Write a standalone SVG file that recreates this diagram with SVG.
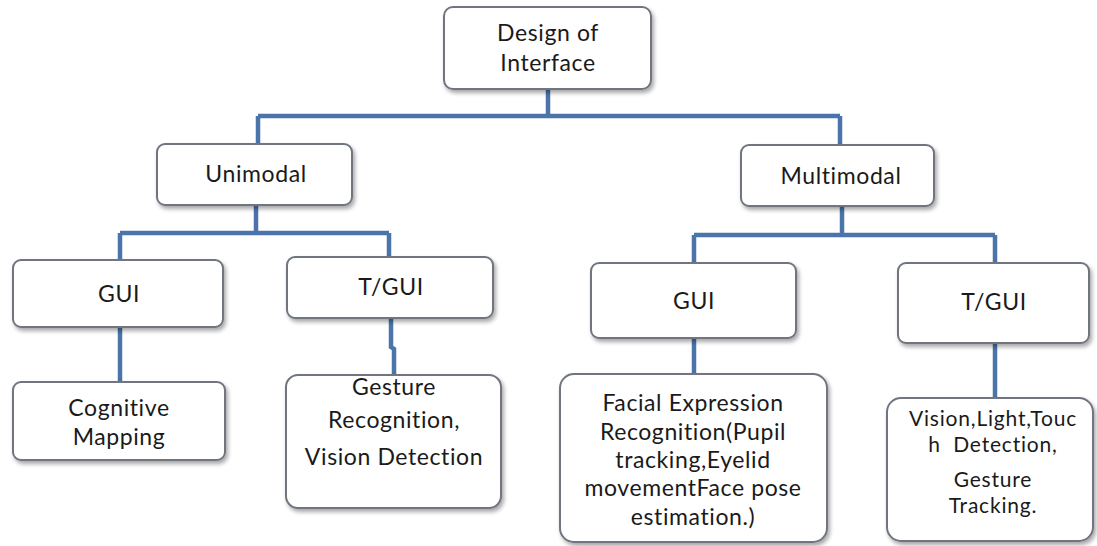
<svg xmlns="http://www.w3.org/2000/svg" width="1097" height="546" viewBox="0 0 1097 546">
<defs>
<filter id="sh" x="-10%" y="-10%" width="125%" height="130%">
<feGaussianBlur in="SourceAlpha" stdDeviation="2"/>
<feOffset dx="2" dy="3" result="b"/>
<feComponentTransfer><feFuncA type="linear" slope="0.35"/></feComponentTransfer>
<feMerge><feMergeNode/><feMergeNode in="SourceGraphic"/></feMerge>
</filter>
<style>
.box{fill:#ffffff;stroke:#6f7580;stroke-width:2;filter:url(#sh)}
.t{font-family:Lato,"Open Sans","Liberation Sans",sans-serif;font-size:23px;letter-spacing:0.6px;fill:#1a1a1a;text-anchor:middle}
.s{font-size:21px;letter-spacing:0.8px}
.c{fill:none;stroke:#4a74aa;stroke-width:4.5}
</style>
</defs>
<rect width="1097" height="546" fill="#ffffff"/>
<g id="connectors">
<path class="c" d="M548 89 V116 M258 116 H840 M258 116 V144 M840 116 V145"/>
<path class="c" d="M256 205 V233 M120 233 H389 M120 233 V260 M389 233 V257"/>
<path class="c" d="M842 206 V235 M694 235 H995 M694 235 V263 M995 235 V263"/>
<path class="c" d="M120 327 V382"/>
<path class="c" d="M391 318 V347 L394 349 V375"/>
<path class="c" d="M694 338 V374"/>
<path class="c" d="M995 343 V398"/>
</g>
<g id="root"><rect class="box" x="444" y="7" width="207" height="82" rx="9"/>
<text class="t" x="548" y="41">Design of</text><text class="t" x="548" y="71">Interface</text></g>
<g id="unimodal"><rect class="box" x="157" y="144" width="195" height="61" rx="8"/>
<text class="t" x="256" y="182">Unimodal</text></g>
<g id="multimodal"><rect class="box" x="741" y="145" width="193" height="61" rx="8"/>
<text class="t" x="841" y="184">Multimodal</text></g>
<g id="gui1"><rect class="box" x="13" y="260" width="210" height="67" rx="8"/>
<text class="t" x="119" y="302">GUI</text></g>
<g id="tgui1"><rect class="box" x="287" y="257" width="206" height="61" rx="8"/>
<text class="t" x="391" y="295">T/GUI</text></g>
<g id="gui2"><rect class="box" x="591" y="263" width="205" height="75" rx="8"/>
<text class="t" x="694" y="309">GUI</text></g>
<g id="tgui2"><rect class="box" x="898" y="263" width="191" height="80" rx="8"/>
<text class="t" x="994" y="310">T/GUI</text></g>
<g id="cognitive"><rect class="box" x="13" y="382" width="212" height="78" rx="8"/>
<text class="t" x="119" y="416">Cognitive</text><text class="t" x="119" y="445">Mapping</text></g>
<g id="gesture"><rect class="box" x="286" y="375" width="215" height="133" rx="12"/>
<text class="t" x="394" y="395">Gesture</text><text class="t" x="394" y="428">Recognition,</text><text class="t" x="394" y="465">Vision Detection</text></g>
<g id="facial"><rect class="box" x="560" y="374" width="267" height="168" rx="14"/>
<text class="t" x="693" y="411">Facial Expression</text><text class="t" x="693" y="440">Recognition(Pupil</text><text class="t" x="693" y="468">tracking,Eyelid</text><text class="t" x="693" y="496">movementFace pose</text><text class="t" x="693" y="525">estimation.)</text></g>
<g id="vision"><rect class="box" x="887" y="398" width="206" height="143" rx="14"/>
<text class="t s" x="993" y="426">Vision,Light,Touc</text><text class="t s" x="993" y="452" xml:space="preserve">h  Detection,</text><text class="t s" x="993" y="487">Gesture</text><text class="t s" x="993" y="513">Tracking.</text></g>
</svg>
